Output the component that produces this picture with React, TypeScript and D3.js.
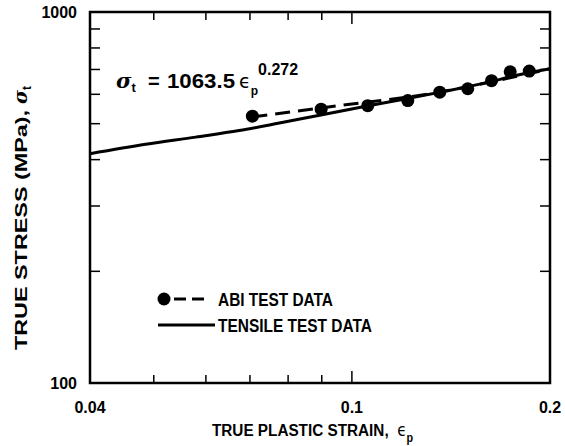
import React from "react";
import * as d3 from "d3";

// ---- data ----
const xMajorTicks = [0.04, 0.1, 0.2];
const xMajorLabels = ["0.04", "0.1", "0.2"];
const xMinorTicks = [0.05, 0.06, 0.07, 0.08, 0.09];
const yMajorTicks = [100, 1000];
const yMajorLabels = ["100", "1000"];
const yMinorTicks = [200, 300, 400, 500, 600, 700, 800, 900];

const tensileStrain = [0.04, 0.0486, 0.0579, 0.0674, 0.0776, 0.0893, 0.105, 0.121, 0.139, 0.162, 0.176, 0.2];
const tensileStress = [415, 440, 460, 479, 502, 527, 557, 584, 612, 648, 672, 703];

const abiStrain = [0.0706, 0.0898, 0.1057, 0.1216, 0.136, 0.15, 0.163, 0.174, 0.186];
const abiStress = [524, 547, 559, 577, 608, 621, 653, 690, 693];

const abiFitStrain = [0.0706, 0.1, 0.125, 0.2];
const abiFitStress = [521, 565, 594, 703];

const legendLabels = ["ABI TEST DATA", "TENSILE TEST DATA"];

const W = 565;
const H = 446;
const M = { left: 90, right: 550, top: 12, bottom: 383 };
const FONT = "'Liberation Sans', Arial, Helvetica, sans-serif";

export default function App() {
  const x = d3.scaleLog().domain([0.04, 0.2]).range([M.left, M.right]);
  const y = d3.scaleLog().domain([100, 1000]).range([M.bottom, M.top]);

  const line = d3
    .line<[number, number]>()
    .x((d) => x(d[0]))
    .y((d) => y(d[1]))
    .curve(d3.curveMonotoneX);

  const tensile = tensileStrain.map((s, i) => [s, tensileStress[i]] as [number, number]);
  const abiFit = abiFitStrain.map((s, i) => [s, abiFitStress[i]] as [number, number]);

  return (
    <svg
      width={W}
      height={H}
      style={{ position: "absolute", left: 0, top: 0, background: "#fff" }}
      fontFamily={FONT}
      fontWeight="bold"
    >
      <rect x={0} y={0} width={W} height={H} fill="#fff" />

      {/* data lines */}
      <path d={line(abiFit) || ""} fill="none" stroke="#000" strokeWidth={3} strokeDasharray="15 8" />
      <path d={line(tensile) || ""} fill="none" stroke="#000" strokeWidth={3} />
      {abiStrain.map((s, i) => (
        <circle key={i} cx={x(s)} cy={y(abiStress[i])} r={6.5} fill="#000" />
      ))}

      {/* frame */}
      <rect
        x={M.left}
        y={M.top}
        width={M.right - M.left}
        height={M.bottom - M.top}
        fill="none"
        stroke="#000"
        strokeWidth={2.5}
      />

      {/* x ticks */}
      {xMinorTicks.map((t) => (
        <g key={"xm" + t}>
          <line x1={x(t)} x2={x(t)} y1={M.bottom} y2={M.bottom - 8} stroke="#000" strokeWidth={1.5} />
          <line x1={x(t)} x2={x(t)} y1={M.top} y2={M.top + 8} stroke="#000" strokeWidth={1.5} />
        </g>
      ))}
      {xMajorTicks.map((t, i) => (
        <g key={"xM" + t}>
          {i === 1 && (
            <>
              <line x1={x(t)} x2={x(t)} y1={M.bottom} y2={M.bottom - 12} stroke="#000" strokeWidth={1.5} />
              <line x1={x(t)} x2={x(t)} y1={M.top} y2={M.top + 12} stroke="#000" strokeWidth={1.5} />
            </>
          )}
          <text x={x(t)} y={413} textAnchor="middle" fontSize={16}>
            {xMajorLabels[i]}
          </text>
        </g>
      ))}

      {/* y ticks */}
      {yMinorTicks.map((t) => (
        <g key={"ym" + t}>
          <line x1={M.left} x2={M.left + 10} y1={y(t)} y2={y(t)} stroke="#000" strokeWidth={1.5} />
          <line x1={M.right} x2={M.right - 10} y1={y(t)} y2={y(t)} stroke="#000" strokeWidth={1.5} />
        </g>
      ))}
      {yMajorTicks.map((t, i) => (
        <text key={"yM" + t} x={77} y={y(t) + 6} textAnchor="end" fontSize={16}>
          {yMajorLabels[i]}
        </text>
      ))}

      {/* axis titles */}
      <text transform="translate(212,436) scale(0.9,1)" fontSize={17}>
        TRUE PLASTIC STRAIN,{"\u00A0\u00A0"}
        <tspan fontWeight="normal" fontFamily="'DejaVu Sans', sans-serif">
          ϵ
        </tspan>
        <tspan dy={6} fontSize={12}>
          p
        </tspan>
      </text>
      <g transform="translate(27,350) rotate(-90)">
        <text x={0} y={0} fontSize={17} textLength={240} lengthAdjust="spacingAndGlyphs">
          TRUE STRESS (MPa),
        </text>
        <text x={246} y={0} fontSize={19} fontStyle="italic" fontFamily="'DejaVu Serif', serif">
          σ
          <tspan dy={4} fontSize={12} fontStyle="normal" fontFamily={FONT}>
            t
          </tspan>
        </text>
      </g>

      {/* equation */}
      <g>
        <text x={116} y={88} fontSize={21} fontStyle="italic" fontFamily="'DejaVu Serif', serif">
          σ
          <tspan dy={4} fontSize={13} fontStyle="normal" fontFamily={FONT}>
            t
          </tspan>
        </text>
        <text x={148} y={88} fontSize={20}>
          =
        </text>
        <text x={167} y={88} fontSize={21} textLength={68} lengthAdjust="spacingAndGlyphs">
          1063.5
        </text>
        <text x={239} y={88} fontSize={19} fontWeight="normal" fontFamily="'DejaVu Sans', sans-serif">
          ϵ
          <tspan dy={7} fontSize={12} fontWeight="bold" fontFamily={FONT}>
            p
          </tspan>
          <tspan dy={-20} fontSize={16} fontWeight="bold" fontFamily={FONT}>
            0.272
          </tspan>
        </text>
      </g>

      {/* legend */}
      <g>
        <circle cx={164} cy={299} r={6.5} fill="#000" />
        <line x1={174} x2={204} y1={299} y2={299} stroke="#000" strokeWidth={3} strokeDasharray="12 6" />
        <text x={218} y={306} fontSize={18} textLength={115} lengthAdjust="spacingAndGlyphs">
          {legendLabels[0]}
        </text>
        <line x1={158} x2={215} y1={325} y2={325} stroke="#000" strokeWidth={3} />
        <text x={218} y={332} fontSize={18} textLength={154} lengthAdjust="spacingAndGlyphs">
          {legendLabels[1]}
        </text>
      </g>
    </svg>
  );
}
